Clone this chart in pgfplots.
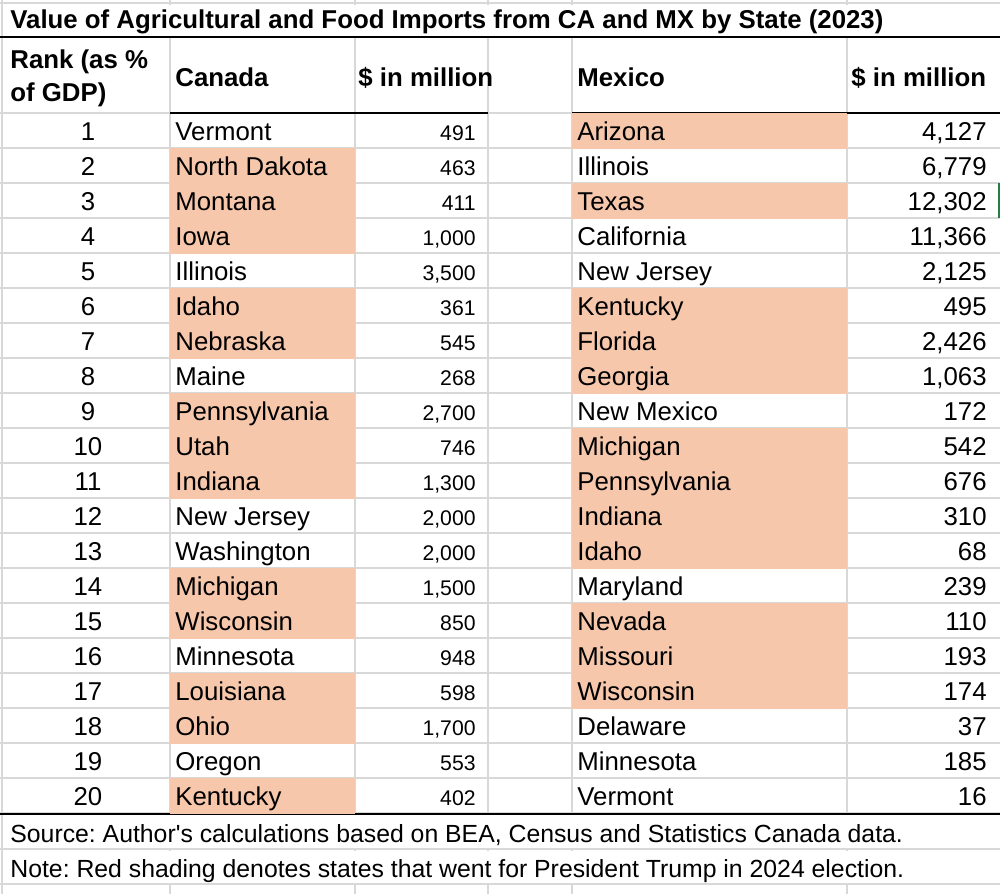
\documentclass[border=0pt]{standalone}
\usepackage{pgfplots}
\usepackage{pgfplotstable}
\pgfplotsset{compat=1.18}
\usepackage{fontspec}
\setmainfont{Liberation Sans}
\frenchspacing
\definecolor{trump}{RGB}{247,199,172}
\definecolor{gridgray}{RGB}{216,216,216}
\definecolor{selgreen}{RGB}{40,125,70}

\pgfplotstableread[col sep=comma]{
rank,ca,caval,car,mx,mxval,mxr
1,Vermont,491,0,Arizona,4127,1
2,North Dakota,463,1,Illinois,6779,0
3,Montana,411,1,Texas,12302,1
4,Iowa,1000,1,California,11366,0
5,Illinois,3500,0,New Jersey,2125,0
6,Idaho,361,1,Kentucky,495,1
7,Nebraska,545,1,Florida,2426,1
8,Maine,268,0,Georgia,1063,1
9,Pennsylvania,2700,1,New Mexico,172,0
10,Utah,746,1,Michigan,542,1
11,Indiana,1300,1,Pennsylvania,676,1
12,New Jersey,2000,0,Indiana,310,1
13,Washington,2000,0,Idaho,68,1
14,Michigan,1500,1,Maryland,239,0
15,Wisconsin,850,1,Nevada,110,1
16,Minnesota,948,0,Missouri,193,1
17,Louisiana,598,1,Wisconsin,174,1
18,Ohio,1700,1,Delaware,37,0
19,Oregon,553,0,Minnesota,185,0
20,Kentucky,402,1,Vermont,16,0
}\imports

\pgfdeclareplotmark{cacell}{\pgfpathrectangle{\pgfpoint{-46.25pt}{-9pt}}{\pgfpoint{92.5pt}{18pt}}\pgfusepathqfill}
\pgfdeclareplotmark{mxcell}{\pgfpathrectangle{\pgfpoint{-68.75pt}{-9pt}}{\pgfpoint{137.5pt}{18pt}}\pgfusepathqfill}

\newcommand\tfont{\fontsize{12.9}{15}\selectfont}
\newcommand\sfont{\fontsize{10.6}{12}\selectfont}
\newcommand\nfont{\fontsize{12.4}{15}\selectfont}

\begin{document}
\begin{tikzpicture}
\begin{axis}[
  name=ax,
  width=500pt, height=447pt, scale only axis,
  xmin=0, xmax=1000, ymin=0, ymax=894, y dir=reverse,
  axis line style={draw=none},
  major tick length=0pt,
  xtick={2,170,355,488,572,847},
  ytick={3,37,113,148,183,218,253,288,323,358,393,428,463,498,533,568,603,638,673,708,743,778,813,849,884},
  xticklabels={}, yticklabels={},
  grid=major,
  major grid style={gridgray, line width=0.6pt},
  clip=false,
  /pgf/number format/assume math mode=true,
  /pgf/number format/fixed,
  /pgf/number format/precision=0,
  /pgf/number format/1000 sep={,},
]
% white covers over merged rows
\addplot [fill=white, draw=none] coordinates {(3,4.5) (1000,4.5) (1000,35.5) (3,35.5)} -- cycle;
\addplot [fill=white, draw=none] coordinates {(3,814.5) (1000,814.5) (1000,847.5) (3,847.5)} -- cycle;
\addplot [fill=white, draw=none] coordinates {(3,850.5) (1000,850.5) (1000,882.5) (3,882.5)} -- cycle;

% red shading
\addplot [only marks, mark=cacell, color=trump, unbounded coords=discard,
  y filter/.expression={\thisrow{car}>0 ? y : nan}]
  table [x expr=262.5, y expr=95.5+35*\thisrow{rank}] {\imports};
\addplot [only marks, mark=mxcell, color=trump, unbounded coords=discard,
  y filter/.expression={\thisrow{mxr}>0 ? y : nan}]
  table [x expr=709.5, y expr=95.5+35*\thisrow{rank}] {\imports};

% black rules
\addplot [black, line width=1pt] coordinates {(0,37) (1000,37)};
\addplot [black, line width=1pt] coordinates {(170,113) (488,113)};
\addplot [black, line width=1pt] coordinates {(572,113) (1000,113)};
\addplot [black, line width=1pt] coordinates {(0,813.5) (1000,813.5)};
\addplot [selgreen, line width=1.1pt] coordinates {(999,183) (999,218)};

% rank
\addplot [draw=none, mark=none, nodes near coords, point meta=explicit symbolic,
  every node near coord/.append style={anchor=base, inner sep=0pt, font=\tfont, text=black}]
  table [x expr=88, y expr=105+35*\thisrow{rank}, meta=rank] {\imports};
% Canada names
\addplot [draw=none, mark=none, nodes near coords, point meta=explicit symbolic,
  every node near coord/.append style={anchor=base west, inner sep=0pt, font=\tfont, text=black}]
  table [x expr=175, y expr=105+35*\thisrow{rank}, meta=ca] {\imports};
% Canada values
\addplot [draw=none, mark=none, nodes near coords, point meta=explicit,
  every node near coord/.append style={anchor=base east, inner sep=0pt, font=\sfont, text=black}]
  table [x expr=476, y expr=105+35*\thisrow{rank}, meta=caval] {\imports};
% Mexico names
\addplot [draw=none, mark=none, nodes near coords, point meta=explicit symbolic,
  every node near coord/.append style={anchor=base west, inner sep=0pt, font=\tfont, text=black}]
  table [x expr=577, y expr=105+35*\thisrow{rank}, meta=mx] {\imports};
% Mexico values
\addplot [draw=none, mark=none, nodes near coords, point meta=explicit,
  every node near coord/.append style={anchor=base east, inner sep=0pt, font=\tfont, text=black}]
  table [x expr=987, y expr=105+35*\thisrow{rank}, meta=mxval] {\imports};

% title, headers, notes
\node [anchor=base west, inner sep=0pt, font=\tfont\bfseries] at (axis cs:10,28) {Value of Agricultural and Food Imports from CA and MX by State (2023)};
\node [anchor=base west, inner sep=0pt, font=\tfont\bfseries] at (axis cs:10,68) {Rank (as \%};
\node [anchor=base west, inner sep=0pt, font=\tfont\bfseries] at (axis cs:10,101) {of GDP)};
\node [anchor=base west, inner sep=0pt, font=\tfont\bfseries] at (axis cs:175,86) {Canada};
\node [anchor=base west, inner sep=0pt, font=\tfont\bfseries] at (axis cs:358,86) {\$ in million};
\node [anchor=base west, inner sep=0pt, font=\tfont\bfseries] at (axis cs:577,86) {Mexico};
\node [anchor=base west, inner sep=0pt, font=\tfont\bfseries] at (axis cs:851,86) {\$ in million};
\node [anchor=base west, inner sep=0pt, font=\nfont] at (axis cs:10,842) {Source: Author\textquotesingle s calculations based on BEA, Census and Statistics Canada data.};
\node [anchor=base west, inner sep=0pt, font=\nfont] at (axis cs:10,877) {Note: Red shading denotes states that went for President Trump in 2024 election.};
\end{axis}
\pgfresetboundingbox
\path[use as bounding box] (ax.south west) rectangle (ax.north east);
\end{tikzpicture}
\end{document}
